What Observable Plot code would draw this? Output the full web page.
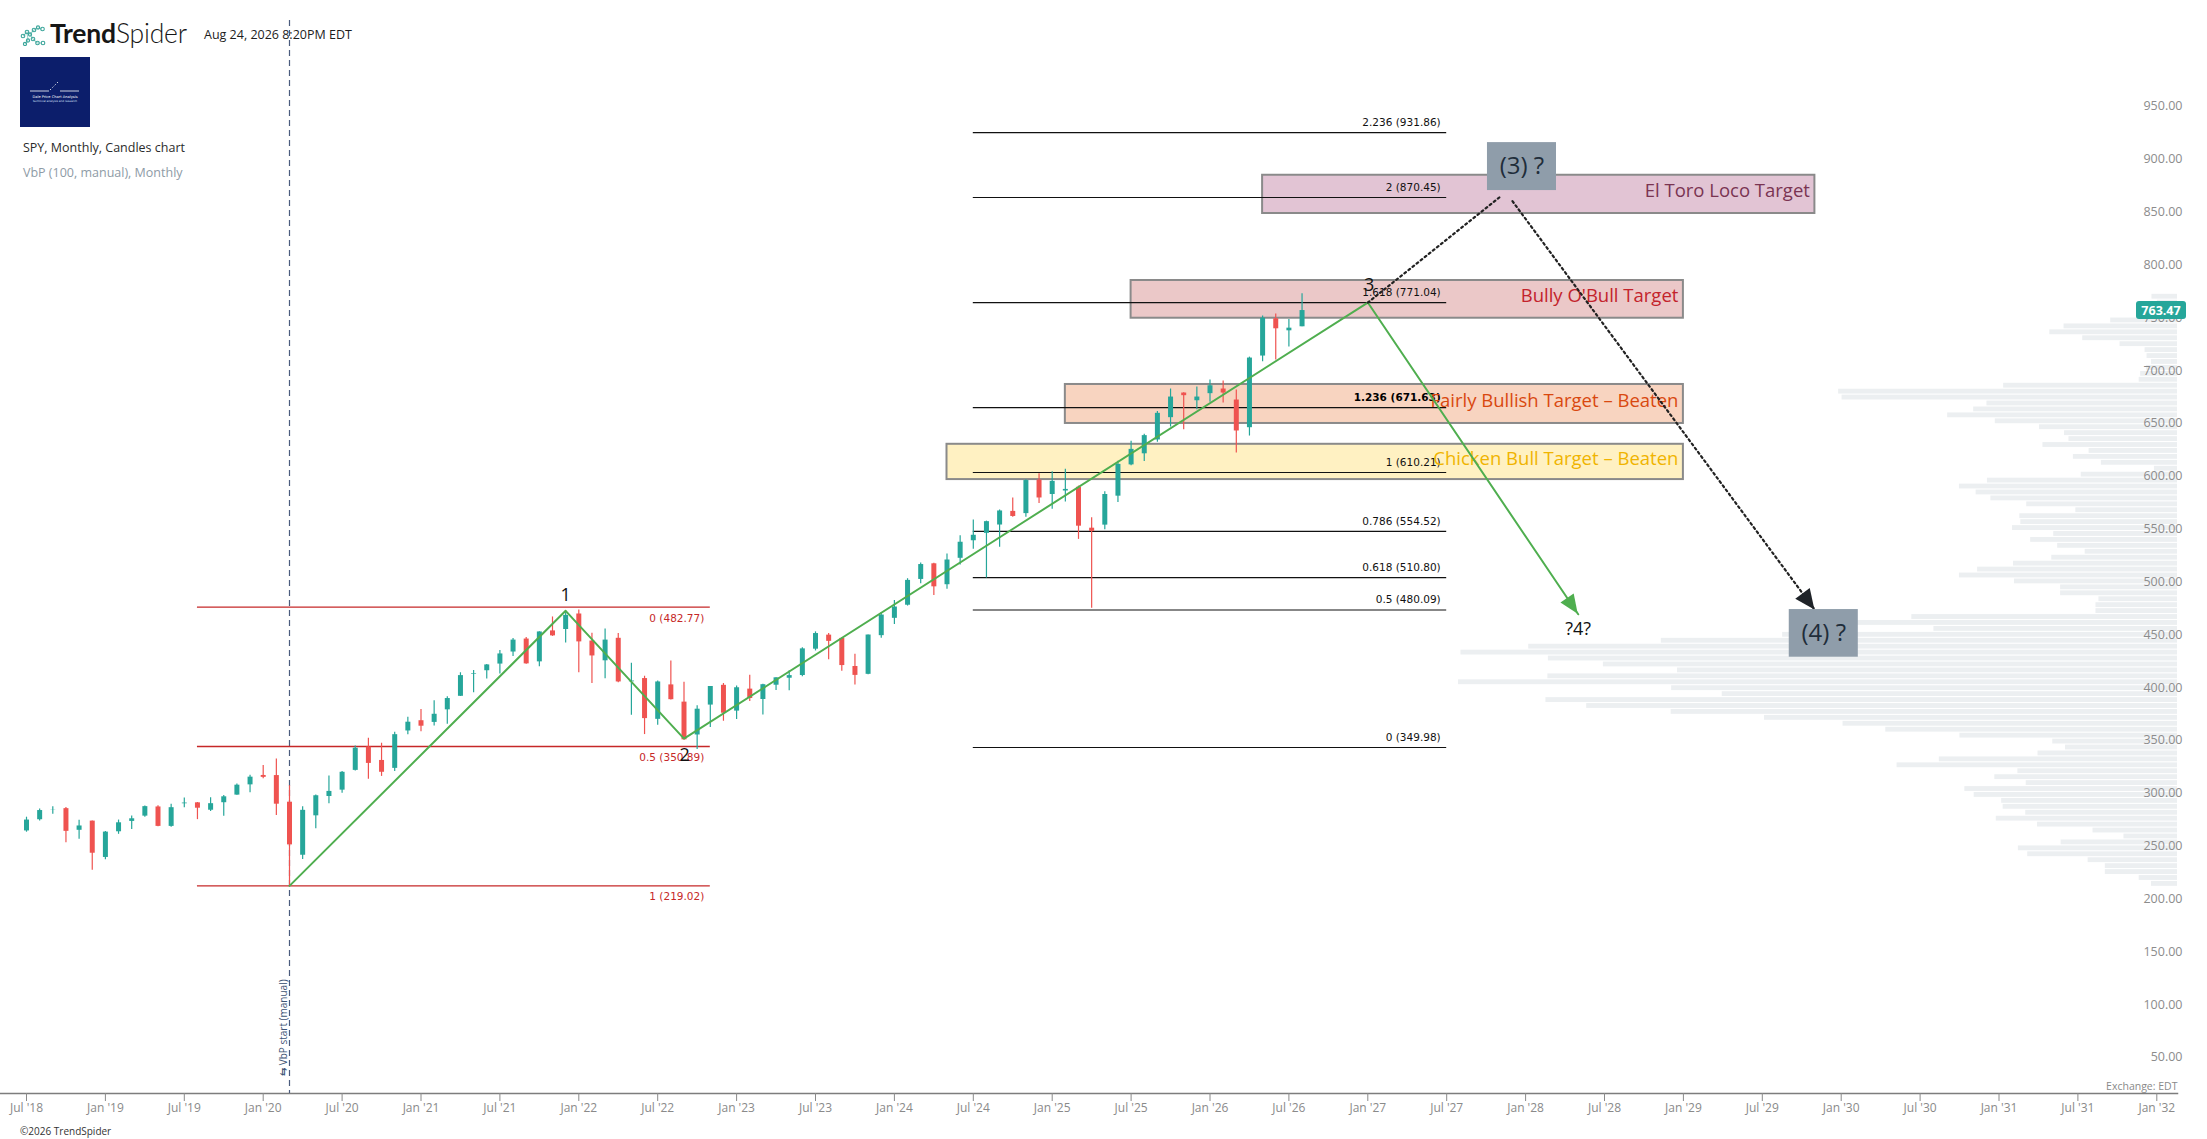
<!DOCTYPE html>
<html>
<head>
<meta charset="utf-8">
<script src="https://cdn.jsdelivr.net/npm/d3@7"></script>
<script src="https://cdn.jsdelivr.net/npm/@observablehq/plot@0.6"></script>
<style>
html,body{margin:0;padding:0;background:#fff;overflow:hidden;}
#wrap{position:relative;width:2207px;height:1139px;overflow:hidden;font-family:"Open Sans",sans-serif;}
.layerbox{position:absolute;left:0;top:0;width:2207px;height:1139px;}
.layerbox svg{display:block;width:2207px !important;height:1139px !important;max-width:none !important;background:transparent !important;overflow:visible;}
.hdr{position:absolute;white-space:nowrap;z-index:5;}
#err{position:absolute;left:400px;top:300px;color:red;font-size:14px;z-index:10;white-space:pre;}
</style>
</head>
<body>
<div id="wrap">
  <div id="vbp" class="layerbox"></div>
  <div id="main" class="layerbox"></div>

  <div class="hdr" style="left:19px;top:24px;">
    <svg width="30" height="22" viewBox="0 0 28 22">
      <g fill="none" stroke="#3aa59a" stroke-width="1.1">
        <path d="M3,12 L7,8 L10,10 L14,6 L18,4 L22,5 M10,10 L13,15 L17,19 L22,19 M7,8 L8,16 L5,20" stroke-opacity="0.5"/>
        <circle cx="3" cy="12" r="1.8"/><circle cx="7" cy="8" r="1.8"/><circle cx="10" cy="10.5" r="1.6"/>
        <circle cx="14" cy="6" r="1.8"/><circle cx="18" cy="3.5" r="1.6"/><circle cx="22.5" cy="5" r="1.8"/>
        <circle cx="13" cy="15" r="1.8"/><circle cx="17.5" cy="19" r="1.8"/><circle cx="23" cy="19" r="1.8"/>
        <circle cx="8" cy="16.5" r="1.6"/><circle cx="5" cy="20" r="1.6"/>
      </g>
    </svg>
  </div>
  <div class="hdr" style="left:50px;top:16px;font-family:Lato,'Open Sans',sans-serif;font-size:26.5px;line-height:34px;color:#161616;letter-spacing:-0.2px;"><span style="font-weight:700">Trend</span><span style="font-weight:300">Spider</span></div>
  <div class="hdr" style="left:204px;top:26px;font-family:'Open Sans',sans-serif;font-size:12.5px;line-height:18px;color:#1d1d1d;">Aug 24, 2026 8:20PM EDT</div>
  <div class="hdr" style="left:20px;top:57px;width:70px;height:70px;background:#0c1e6b;">
    <svg width="70" height="70" viewBox="0 0 70 70">
      <g stroke="#ffffff" stroke-width="0.8" fill="none">
        <path d="M10,34 L29,34"/>
        <path d="M30,33 L38,25" stroke-dasharray="1.5,1.8"/>
        <path d="M40,34 L59,34"/>
      </g>
      <text x="35" y="40.5" text-anchor="middle" font-size="3.6" fill="#ffffff" font-family="DejaVu Sans">Dale Price Chart Analysis</text>
      <text x="35" y="45" text-anchor="middle" font-size="2.8" fill="#dfe6ff" font-family="DejaVu Sans">technical analysis and research</text>
    </svg>
  </div>
  <div class="hdr" style="left:23px;top:139px;font-size:12.5px;line-height:18px;color:#2b2b2b;">SPY, Monthly, Candles chart</div>
  <div class="hdr" style="left:23px;top:164px;font-size:12.5px;line-height:18px;color:#8e9ba6;">VbP (100, manual), Monthly</div>
  <div class="hdr" style="left:20px;top:1124px;font-size:10px;line-height:14px;color:#333;">©2026 TrendSpider</div>
  <div id="err"></div>
</div>

<script>
// ---------------- DATA ----------------
// Monthly candles, Jul 2018 .. Aug 2026 (index 0 = Jul 2018)
const candleMonths = [
  "2018-07","2018-08","2018-09","2018-10","2018-11","2018-12",
  "2019-01","2019-02","2019-03","2019-04","2019-05","2019-06","2019-07","2019-08","2019-09","2019-10","2019-11","2019-12",
  "2020-01","2020-02","2020-03","2020-04","2020-05","2020-06","2020-07","2020-08","2020-09","2020-10","2020-11","2020-12",
  "2021-01","2021-02","2021-03","2021-04","2021-05","2021-06","2021-07","2021-08","2021-09","2021-10","2021-11","2021-12",
  "2022-01","2022-02","2022-03","2022-04","2022-05","2022-06","2022-07","2022-08","2022-09","2022-10","2022-11","2022-12",
  "2023-01","2023-02","2023-03","2023-04","2023-05","2023-06","2023-07","2023-08","2023-09","2023-10","2023-11","2023-12",
  "2024-01","2024-02","2024-03","2024-04","2024-05","2024-06","2024-07","2024-08","2024-09","2024-10","2024-11","2024-12",
  "2025-01","2025-02","2025-03","2025-04","2025-05","2025-06","2025-07","2025-08","2025-09","2025-10","2025-11","2025-12",
  "2026-01","2026-02","2026-03","2026-04","2026-05","2026-06","2026-07","2026-08"
];
const openP = [
  271.0,281.6,290.5,292.1,271.6,280.3,
  245.9,270.2,280.0,285.0,293.7,275.3,296.7,297.6,290.6,297.7,304.9,314.6,
  323.5,323.4,298.2,248.0,285.3,303.6,309.6,328.3,350.4,337.7,330.2,365.6,
  375.3,373.7,385.6,398.4,419.4,422.6,428.9,440.3,452.6,431.0,460.3,461.6,
  476.3,450.7,432.0,453.3,412.1,415.2,376.6,409.2,392.9,361.8,390.1,408.8,
  384.4,405.2,395.4,408.9,415.5,418.1,443.0,456.3,453.2,426.6,419.2,455.8,
  472.2,484.6,509.0,523.8,504.0,529.0,545.6,552.6,560.5,573.4,571.3,603.0,
  589.4,592.7,596.2,557.5,560.4,587.8,617.4,627.9,641.0,662.1,685.4,678.1,
  684.8,689.2,678.8,652.6,720.4,755.7,744.3,748.1
];
const highP = [
  284.0,291.7,293.9,293.2,281.2,280.4,
  270.5,281.3,285.2,294.5,294.9,296.3,302.2,297.9,302.5,304.6,315.5,323.8,
  333.0,339.1,313.8,293.8,305.1,323.0,327.2,351.3,358.8,354.0,364.4,378.5,
  385.9,394.2,398.0,420.7,422.8,428.6,441.8,453.1,454.1,459.6,473.5,478.8,
  480.0,458.1,462.1,457.8,429.7,417.4,413.0,431.7,411.7,389.5,407.7,410.5,
  408.2,418.3,409.7,415.9,422.6,444.3,459.4,457.8,453.7,438.1,456.4,477.6,
  489.1,509.7,524.6,524.4,533.1,550.3,565.2,564.2,574.7,586.1,603.4,609.1,
  610.8,613.2,597.3,567.4,592.1,620.9,639.8,646.5,668.0,689.2,685.6,691.1,
  697.7,696.7,688.2,719.4,758.2,760.1,755.0,779.3
];
const lowP = [
  269.8,280.4,286.7,259.9,263.1,233.8,
  243.7,267.8,272.4,283.9,275.0,274.6,293.0,281.7,289.3,284.8,304.7,307.1,
  320.4,285.5,219.02,243.9,273.0,296.7,306.7,327.7,319.8,322.6,327.2,362.0,
  364.8,370.4,371.9,398.2,401.7,414.7,419.4,436.1,428.8,426.4,455.1,448.9,
  420.8,410.6,415.1,411.2,380.5,362.2,371.0,395.0,357.0,348.1,368.8,374.8,
  376.5,393.6,380.7,403.8,403.7,416.8,441.3,433.0,422.0,409.2,418.7,453.3,
  466.4,483.8,504.9,493.9,499.6,522.6,537.5,510.3,539.4,567.9,567.9,580.9,
  575.4,582.4,546.9,481.8,556.0,581.8,616.5,620.6,638.9,653.2,650.7,669.6,
  676.6,676.0,628.7,644.7,715.0,716.6,728.9,748.1
];
const closeP = [
  281.3,290.3,290.7,270.6,275.7,249.9,
  269.9,278.7,282.5,294.0,275.3,293.0,297.4,292.5,296.8,303.3,314.3,321.9,
  321.7,296.3,257.8,290.5,304.3,308.4,326.5,349.3,334.9,326.5,362.1,373.9,
  370.1,381.4,396.3,418.0,420.0,428.1,438.5,451.6,429.1,459.3,455.6,475.0,
  449.9,436.6,451.6,412.0,412.9,377.3,412.0,395.2,357.2,386.2,407.7,382.4,
  406.5,396.3,409.4,415.9,418.0,443.3,457.8,450.4,427.5,418.2,456.4,475.3,
  482.9,508.1,523.1,502.0,527.4,544.2,550.8,563.7,573.8,568.6,602.6,586.1,
  601.8,594.2,559.4,554.5,589.4,617.9,632.1,645.1,666.2,681.6,682.9,681.6,
  692.3,685.4,649.5,718.5,756.3,746.2,746.8,763.47
];
const lastPrice = 763.47;

// x axis ticks (month index from Jul 2018)
const xTickMonths = [0,6,12,18,24,30,36,42,48,54,60,66,72,78,84,90,96,102,108,114,120,126,132,138,144,150,156,162];
const xTickLabels = ["Jul '18","Jan '19","Jul '19","Jan '20","Jul '20","Jan '21","Jul '21","Jan '22","Jul '22","Jan '23","Jul '23","Jan '24","Jul '24","Jan '25","Jul '25","Jan '26","Jul '26","Jan '27","Jul '27","Jan '28","Jul '28","Jan '29","Jul '29","Jan '30","Jul '30","Jan '31","Jul '31","Jan '32"];
// y axis ticks
const yTickValues = [50,100,150,200,250,300,350,400,450,500,550,600,650,700,750,800,850,900,950];

// Fibonacci (left, red)
const fibLeftLevels = ["0","0.5","1"];
const fibLeftPrices = [482.77,350.89,219.02];
const fibLeftSpan = [13,52];
// Fibonacci extension (right, black)
const fibRightLevels = ["2.236","2","1.618","1.236","1","0.786","0.618","0.5","0"];
const fibRightPrices = [931.86,870.45,771.04,671.63,610.21,554.52,510.80,480.09,349.98];
const fibRightSpan = [72,108];
const fibRightBold = "1.236";

// Target zones
const targetNames = ["El Toro Loco Target","Bully O'Bull Target","Fairly Bullish Target – Beaten","Chicken Bull Target – Beaten"];
const targetLow   = [855.3,756.2,656.6,603.5];
const targetHigh  = [891.5,791.9,693.5,636.9];
const targetStart = [94,84,79,70];
const targetEnd   = [136,126,126,126];

// Elliott wave path (month index, price)
const waveMonths = [20,41,50,102,118];
const wavePrices = [219.02,479.3,358.4,771.04,476.0];
const waveLabels = ["1","2","3","?4?"];
const waveLabelMonths = [41,50.05,102.1,118];
const waveLabelPrices = [493.8,342.6,787.0,461.6];

// Dotted projections
const proj3Months = [102,112];
const proj3Prices = [771.04,870.45];
const proj4Months = [113,136];
const proj4Prices = [867.0,480.09];

// Callout boxes
const calloutLabels = ["(3) ?","(4) ?"];
const calloutM1 = [111.1,134.05];
const calloutM2 = [116.35,139.3];
const calloutLo = [877.0,435.4];
const calloutHi = [922.4,480.5];

// Volume by price (100 rows, from low price to high price), relative volume
const vbpLow = 218.0, vbpHigh = 779.3;
const vbpVolume = [
  53,78,147,147,182,305,324,237,109,172,
  285,369,309,355,358,414,433,308,372,325,
  571,485,284,228,254,443,594,681,841,1031,
  1203,1286,927,1030,1464,1282,1018,1169,1281,1459,
  1321,1051,804,496,681,541,166,166,160,238,
  238,332,444,407,334,256,188,244,299,252,
  336,319,321,207,307,380,410,444,387,196,
  47,155,212,180,274,221,230,281,371,468,
  415,388,683,690,354,78,75,63,53,62,
  66,117,193,260,231,136,71,61,41,52
];
const vbpStartMonth = 20; // Mar 2020

// ---------------- STYLE ----------------
const GREEN = "#26a69a", RED = "#ef5350";
const TARGET_STYLE = {
  "El Toro Loco Target": {fill:"#e2c4d4", text:"#7a3452"},
  "Bully O'Bull Target": {fill:"#ebc8c8", text:"#c3232b"},
  "Fairly Bullish Target – Beaten": {fill:"#f8d4c0", text:"#d9480f"},
  "Chicken Bull Target – Beaten": {fill:"#fff1c2", text:"#f0b400"}
};
const W = 2207, H = 1139;
const yCfg = {type:"linear", domain:[0,1000], range:[1116.8,60.1], axis:null};
const xCfg = {type:"linear", domain:[0,162], range:[26,2156.3], axis:null};

try {
// ---------------- TABLES ----------------
const candles = candleMonths.map((m,i)=>({i, m, o:openP[i], h:highP[i], l:lowP[i], c:closeP[i]}));
const upC = candles.filter(d=>d.c>=d.o), dnC = candles.filter(d=>d.c<d.o);
const fibLeft = fibLeftLevels.map((lv,i)=>({lv, p:fibLeftPrices[i], x1:fibLeftSpan[0], x2:fibLeftSpan[1]}));
const fibRight = fibRightLevels.map((lv,i)=>({lv, p:fibRightPrices[i], x1:fibRightSpan[0], x2:fibRightSpan[1]}));
const targets = targetNames.map((n,i)=>({n, lo:targetLow[i], hi:targetHigh[i], m1:targetStart[i], m2:targetEnd[i], mid:(targetLow[i]+targetHigh[i])/2}));
const wave = waveMonths.map((m,i)=>({m, v:wavePrices[i]}));
const waveText = waveLabels.map((t,i)=>({t, m:waveLabelMonths[i], v:waveLabelPrices[i]}));
const proj3 = proj3Months.map((m,i)=>({m, v:proj3Prices[i]}));
const proj4 = proj4Months.map((m,i)=>({m, v:proj4Prices[i]}));
const callouts = calloutLabels.map((t,i)=>({t, m1:calloutM1[i], m2:calloutM2[i], lo:calloutLo[i], hi:calloutHi[i],
  mc:(calloutM1[i]+calloutM2[i])/2, vc:(calloutLo[i]+calloutHi[i])/2}));
const vbpStep = (vbpHigh - vbpLow)/vbpVolume.length;
const vbpRows = vbpVolume.map((v,i)=>({v, z:0, lo:vbpLow+i*vbpStep, hi:vbpLow+(i+1)*vbpStep}));
const yTicks = yTickValues.map(v=>({v, s:v.toFixed(2)}));
const fibFmt = d=>`${d.lv} (${d.p.toFixed(2)})`;

// custom filled arrowhead using the plot's scales
function arrowHead(pts, color, len, wid) {
  return (index, scales, values, dims) => {
    const sx = typeof scales.x === "function" ? scales.x : (v)=>scales.scales.x.apply(v);
    const sy = typeof scales.y === "function" ? scales.y : (v)=>scales.scales.y.apply(v);
    const a = pts[pts.length-2], b = pts[pts.length-1];
    const x1=sx(a.m), y1=sy(a.v), x2=sx(b.m), y2=sy(b.v);
    const dx=x2-x1, dy=y2-y1, L=Math.hypot(dx,dy), ux=dx/L, uy=dy/L;
    const bx=x2-ux*len, by=y2-uy*len, px=-uy*wid/2, py=ux*wid/2;
    const g = d3.create("svg:g");
    g.append("path").attr("d",`M${x2},${y2}L${bx+px},${by+py}L${bx-px},${by-py}Z`).attr("fill",color);
    return g.node();
  };
}
function priceBadge(value) {
  return (index, scales, values, dims) => {
    const sy = typeof scales.y === "function" ? scales.y : (v)=>scales.scales.y.apply(v);
    const y = sy(value), right = dims.width - dims.marginRight + 9;
    const g = d3.create("svg:g");
    g.append("rect").attr("x", right-50).attr("y", y-9).attr("width",50).attr("height",18).attr("rx",3).attr("fill",GREEN);
    g.append("text").attr("x", right-25).attr("y", y).attr("dy","0.36em").attr("text-anchor","middle")
      .attr("fill","#fff").attr("font-size",12.5).attr("font-weight",700).attr("font-family","'Open Sans',sans-serif").text(value.toFixed(2));
    return g.node();
  };
}

// ---------------- VBP LAYER ----------------
const vbpPlot = Plot.plot({
  width: W, height: H, marginTop:20, marginBottom:46, marginLeft:0, marginRight:30,
  x:{type:"linear", domain:[0,1464], range:[2177,1458], axis:null},
  y: yCfg,
  marks:[
    Plot.rect(vbpRows, {x1:"z", x2:"v", y1:"lo", y2:"hi", fill:"#eceff1", insetTop:0.5, insetBottom:0.6})
  ]
});
document.getElementById("vbp").appendChild(vbpPlot);

// ---------------- MAIN LAYER ----------------
const targetMarks = targets.map(t =>
  Plot.rect([t], {x1:"m1", x2:"m2", y1:"lo", y2:"hi", fill:TARGET_STYLE[t.n].fill, stroke:"#8a8a8a", strokeWidth:2})
);
const targetTextMarks = targets.map(t =>
  Plot.text([t], {x:"m2", y:"mid", text:"n", dx:-5, dy:-3, textAnchor:"end", lineAnchor:"middle",
    fill:TARGET_STYLE[t.n].text, fontSize:18.5, fontFamily:"'Open Sans',sans-serif"})
);

const mainPlot = Plot.plot({
  width: W, height: H, marginTop:20, marginBottom:46, marginLeft:0, marginRight:30,
  style:{fontFamily:"'Open Sans',sans-serif"},
  x: xCfg,
  y: yCfg,
  marks:[
    Plot.frame({anchor:"bottom", stroke:"#7d7d7d", strokeWidth:1.5}),
    Plot.axisX({ticks:xTickMonths, tickFormat:d=>xTickLabels[xTickMonths.indexOf(d)], tickSize:8, tickPadding:2,
      fontSize:12, color:"#8a8a8a", label:null}),
    Plot.text(yTicks, {y:"v", frameAnchor:"right", text:"s", dx:5, dy:-7, textAnchor:"end",
      lineAnchor:"middle", fontSize:12.5, fill:"#8c8c8c"}),
    Plot.text(["Exchange: EDT"], {frameAnchor:"bottom-right", text:d=>d, dy:-6.5, textAnchor:"end", lineAnchor:"middle",
      fontSize:10.5, fill:"#8a8a8a"}),
    Plot.ruleX([vbpStartMonth], {x:d=>d, stroke:"#4a5b7d", strokeWidth:1.2, strokeDasharray:"6,4"}),
    Plot.text([{m:19.55, v:84.9, t:"⇆ VbP start (manual)"}], {x:"m", y:"v", text:"t", rotate:-90, fontSize:10,
      fill:"#3d5475", textAnchor:"middle", lineAnchor:"middle"}),
    ...targetMarks,
    Plot.ruleY(fibLeft, {y:"p", x1:"x1", x2:"x2", stroke:"#c62828", strokeWidth:1.4}),
    Plot.text(fibLeft, {x:"x2", y:"p", text:fibFmt, dx:-6, dy:11,
      textAnchor:"end", lineAnchor:"middle", fill:"#c62828", fontSize:10.5, fontFamily:"'DejaVu Sans',sans-serif"}),
    Plot.ruleY(fibRight, {y:"p", x1:"x1", x2:"x2", stroke:"#111", strokeWidth:1.2}),
    Plot.text(fibRight.filter(d=>d.lv!==fibRightBold), {x:"x2", y:"p", text:fibFmt, dx:-6, dy:-10,
      textAnchor:"end", lineAnchor:"middle", fill:"#111", fontSize:10.5, fontFamily:"'DejaVu Sans',sans-serif"}),
    Plot.ruleX(upC, {x:"i", y1:"l", y2:"h", stroke:GREEN, strokeWidth:1.2}),
    Plot.ruleX(dnC, {x:"i", y1:"l", y2:"h", stroke:RED, strokeWidth:1.2}),
    Plot.ruleX(upC, {x:"i", y1:"o", y2:"c", stroke:GREEN, strokeWidth:5}),
    Plot.ruleX(dnC, {x:"i", y1:"o", y2:"c", stroke:RED, strokeWidth:5}),
    Plot.text(fibRight.filter(d=>d.lv===fibRightBold), {x:"x2", y:"p", text:fibFmt, dx:-6, dy:-10,
      textAnchor:"end", lineAnchor:"middle", fill:"#000", fontWeight:"bold", fontSize:10.5, fontFamily:"'DejaVu Sans',sans-serif"}),
    ...targetTextMarks,
    Plot.line(wave, {x:"m", y:"v", stroke:"#4fae4f", strokeWidth:2}),
    arrowHead(wave, "#4fae4f", 19, 16),
    Plot.line(proj3, {x:"m", y:"v", stroke:"#222", strokeWidth:2.2, strokeDasharray:"2,3.2"}),
    Plot.line(proj4, {x:"m", y:"v", stroke:"#222", strokeWidth:2.2, strokeDasharray:"2,3.2"}),
    arrowHead(proj4, "#1f2328", 20, 18),
    Plot.rect(callouts, {x1:"m1", x2:"m2", y1:"lo", y2:"hi", fill:"#8f9daa"}),
    Plot.text(callouts, {x:"mc", y:"vc", text:"t", fontSize:24, fill:"#1f2d3a", lineAnchor:"middle"}),
    Plot.text(waveText, {x:"m", y:"v", text:"t", fontSize:18, fill:"#111", lineAnchor:"middle"}),
    priceBadge(lastPrice)
  ]
});
document.getElementById("main").appendChild(mainPlot);
} catch (e) {
  document.getElementById("err").textContent = String(e && e.stack || e);
}
</script>
</body>
</html>
